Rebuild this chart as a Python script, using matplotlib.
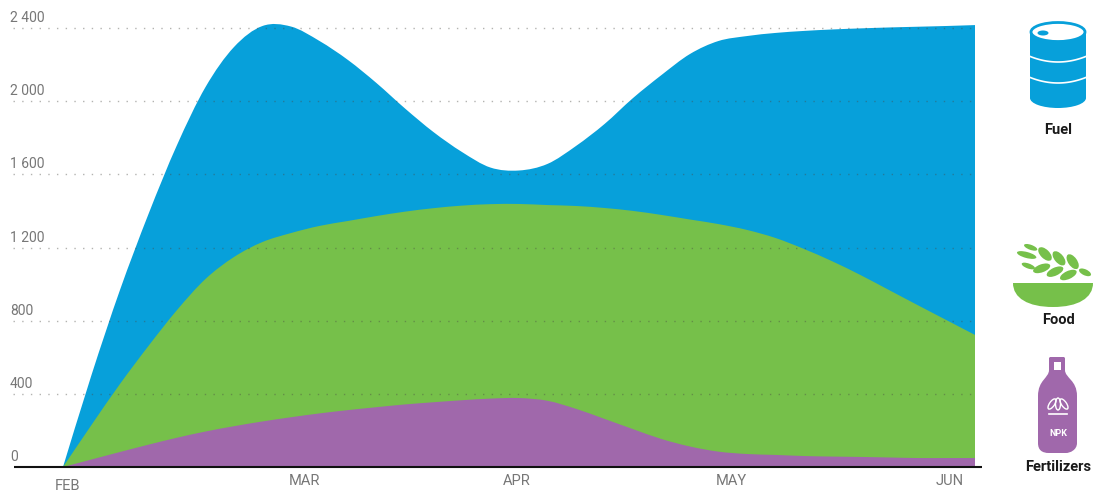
import numpy as np
import matplotlib
matplotlib.use('Agg')
import matplotlib.pyplot as plt
from matplotlib.patches import Ellipse, Rectangle, PathPatch
from matplotlib.path import Path

plt.rcParams['font.family'] = ['Roboto', 'DejaVu Sans']

# months since FEB, one reading every 1/8 month
t = np.arange(33) / 8

fertilizers = [0, 41, 82, 122, 160, 194, 223, 249, 272, 293, 311, 327, 342, 354, 365, 374, 377,
               362, 318, 263, 207, 153, 112, 84, 71, 66, 60, 57, 55, 52, 49, 49, 49]
food_top = [0, 230, 454, 662, 858, 1028, 1148, 1230, 1279, 1318, 1345, 1372, 1396, 1415, 1429, 1437, 1438,
            1432, 1427, 1416, 1400, 1378, 1353, 1328, 1296, 1252, 1192, 1124, 1048, 966, 884, 803, 722]
fuel_top = [0, 503, 968, 1383, 1760, 2077, 2296, 2411, 2408, 2329, 2225, 2099, 1960, 1831, 1722, 1637, 1621,
            1657, 1755, 1875, 2017, 2143, 2258, 2329, 2356, 2373, 2384, 2392, 2398, 2403, 2407, 2411, 2416]

y_ticks = [0, 400, 800, 1200, 1600, 2000, 2400]
y_labels = ['0', '400', '800', '1 200', '1 600', '2 000', '2 400']
months = ['FEB', 'MAR', 'APR', 'MAY', 'JUN']
month_pos = [0.02, 1.06, 1.99, 2.93, 3.89]

BLUE = '#07A0DA'
GREEN = '#76C04A'
PURPLE = '#A068AB'
TXT = '#777777'

W, H = 1094, 493


def smooth_area(x, top):
    """Closed area under a curve, with Bezier segments through the readings."""
    p = np.column_stack([x, top])
    verts = [(x[0], 0), p[0]]
    codes = [Path.MOVETO, Path.LINETO]
    for i in range(len(p) - 1):
        prev = p[max(i - 1, 0)]
        nxt = p[min(i + 2, len(p) - 1)]
        verts += [p[i] + (p[i + 1] - prev) / 6, p[i + 1] - (nxt - p[i]) / 6, p[i + 1]]
        codes += [Path.CURVE4] * 3
    verts += [(x[-1], 0), (x[0], 0)]
    codes += [Path.LINETO, Path.CLOSEPOLY]
    return Path(verts, codes)


fig = plt.figure(figsize=(W / 100, H / 100), dpi=100, facecolor='white')

# axes box in pixels: x 12..982, y 10..467
ax = fig.add_axes([12 / W, (H - 467) / H, 970 / W, 457 / H])
ax.set_xlim((12 - 63) / 228, (982 - 63) / 228)
ax.set_ylim(0, 457 * 2400 / 439)
for s in ax.spines.values():
    s.set_visible(False)
ax.set_xticks([])
ax.set_yticks([])
ax.patch.set_visible(False)

# painted back to front, each area reaches down to the baseline
for top, col in ((fuel_top, BLUE), (food_top, GREEN), (fertilizers, PURPLE)):
    ax.add_patch(PathPatch(smooth_area(t, top), fc=col, ec='none', lw=0, zorder=2))

for v, lab in zip(y_ticks, y_labels):
    if v > 0:
        ax.plot([(13 - 63) / 228, 4.01], [v, v], color='#4a4a44', alpha=0.42, lw=1.0,
                ls=(0, (1, 5.26)), zorder=3)
    ax.annotate(lab, (0, v), xycoords=('axes fraction', 'data'), xytext=(-2, 10),
                textcoords='offset pixels', ha='left', va='center', fontsize=10,
                color=TXT)

ax.plot([(14 - 63) / 228, (982 - 63) / 228], [0, 0], color='#111111', lw=1.5, zorder=4,
        clip_on=False, solid_capstyle='butt')

for i, (m, p) in enumerate(zip(months, month_pos)):
    dy = -19 if i == 0 else -14
    ax.annotate(m, (p, 0), xycoords='data', xytext=(0, dy), textcoords='offset pixels',
                ha='center', va='center', fontsize=10.5, color=TXT)

# icons, drawn in pixel coordinates
ic = fig.add_axes([0, 0, 1, 1])
ic.set_xlim(0, W)
ic.set_ylim(H, 0)
ic.axis('off')
ic.patch.set_visible(False)

# barrel
ic.add_patch(Rectangle((1030, 32), 56, 66, color=BLUE, lw=0))
ic.add_patch(Ellipse((1058, 98), 56, 20, color=BLUE, lw=0))
ic.add_patch(Ellipse((1058, 32), 54, 19, fc='white', ec=BLUE, lw=2))
ic.add_patch(Ellipse((1043, 33), 11, 5, color=BLUE, lw=0))
for yb in (56, 77):
    xs = np.linspace(1029, 1087, 30)
    ic.plot(xs, yb + 6 * (1 - ((xs - 1058) / 29) ** 2), color='white', lw=1.2)

# bowl and grains
bowl = Path([(1013, 283), (1093, 283), (1093, 298), (1078, 307), (1053, 307),
             (1028, 307), (1013, 298), (1013, 283), (1013, 283)],
            [Path.MOVETO, Path.LINETO, Path.CURVE4, Path.CURVE4, Path.CURVE4,
             Path.CURVE4, Path.CURVE4, Path.CURVE4, Path.CLOSEPOLY])
ic.add_patch(PathPatch(bowl, color=GREEN, lw=0))
grains = [(122, 52, 14, 5, 20), (110, 75, 20, 6, 15), (115, 108, 14, 5, 20), (165, 72, 17, 9, 45),
          (207, 85, 17, 9, 50), (248, 95, 17, 9, 55), (155, 115, 18, 8, -20), (195, 125, 18, 8, -25),
          (235, 135, 18, 8, -25), (285, 127, 13, 6, 25)]
for gx, gy, gw, gh, ang in grains:
    ic.add_patch(Ellipse((990 + gx / 3, 230 + gy / 3), gw, gh, angle=ang, color=GREEN, lw=0))

# bottle
body = Path([(1050, 357), (1064, 357), (1065, 358), (1065, 370), (1065, 378), (1077, 380), (1077, 396),
             (1077, 443), (1077, 450), (1070, 453), (1066, 453), (1049, 453), (1042, 453), (1038, 450), (1038, 443),
             (1038, 396), (1038, 380), (1049, 378), (1049, 370), (1049, 358), (1050, 357)],
            [Path.MOVETO, Path.LINETO, Path.LINETO, Path.LINETO, Path.CURVE4, Path.CURVE4, Path.CURVE4,
             Path.LINETO, Path.CURVE4, Path.CURVE4, Path.CURVE4, Path.LINETO, Path.CURVE4, Path.CURVE4, Path.CURVE4,
             Path.LINETO, Path.CURVE4, Path.CURVE4, Path.CURVE4, Path.LINETO, Path.CLOSEPOLY])
ic.add_patch(PathPatch(body, color=PURPLE, lw=0))
ic.add_patch(Rectangle((1054, 362), 7, 8, color='white', lw=0))
for ang, dx in ((0, 0), (35, -6), (-35, 6)):
    ic.add_patch(Ellipse((1058 + dx, 404), 5, 12, angle=ang, fc='none', ec='white', lw=1))
ic.plot([1049, 1067], [414, 414], color='white', lw=1.2)
ic.text(1058, 433, 'NPK', color='white', fontsize=6.5, fontweight='bold', ha='center', va='center')

for lab, yl in (('Fuel', 130), ('Food', 320), ('Fertilizers', 467)):
    ic.text(1058.5, yl, lab, color='#1a1a1a', fontsize=10.5, fontweight='bold', ha='center', va='center')

fig.savefig('out.png', dpi=100, facecolor='white')
